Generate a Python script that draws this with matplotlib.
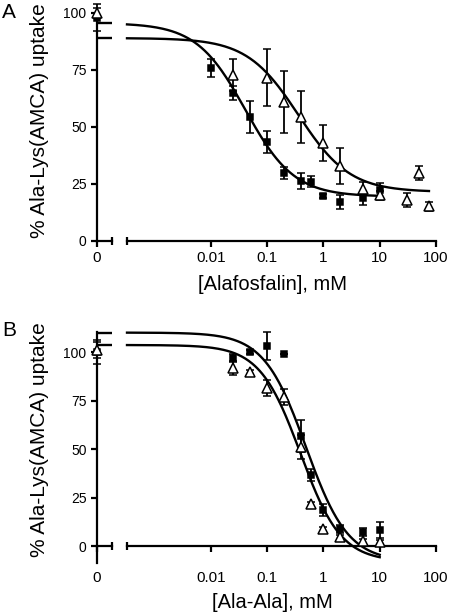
import numpy as np
import matplotlib
matplotlib.use('Agg')
import matplotlib.pyplot as plt
from matplotlib.ticker import FixedLocator

plt.rcParams['font.family'] = ['Liberation Sans', 'DejaVu Sans']

# panel A: [Alafosfalin], mM
a_sq_x = [0, 0.01, 0.025, 0.05, 0.1, 0.2, 0.4, 0.6, 1, 2, 5, 10]
a_sq_y = [98, 76, 65, 54.4, 43.4, 29.8, 26.3, 26, 19.7, 17, 18.9, 22.4]
a_sq_err = [6, 4, 3, 7, 4.8, 2.5, 3.5, 2.5, 1, 3, 3, 3]
a_tr_x = [0, 0.025, 0.1, 0.2, 0.4, 1, 2, 5, 10, 30, 50, 75]
a_tr_y = [100, 72.8, 71.5, 61, 54.4, 43, 33, 23, 20, 18, 29.8, 15.3]
a_tr_err = [2, 7, 12.5, 13.6, 11.6, 8, 8, 3, 2, 3, 3, 2]
# fitted curves: top, bottom, IC50, hill slope
a_sq_fit = (95.6, 19.5, 0.041, 1.0)
a_tr_fit = (89.0, 21.5, 0.36, 0.95)

# panel B: [Ala-Ala], mM
b_sq_x = [0, 0.025, 0.05, 0.1, 0.2, 0.4, 0.6, 1, 2, 5, 10]
b_sq_y = [100, 96.9, 100, 103, 99, 56.7, 36.6, 18.6, 8.8, 7.2, 8.2]
b_sq_err = [6, 2, 1, 7.2, 0, 8, 3, 3, 2, 2, 4]
b_tr_x = [0, 0.025, 0.05, 0.1, 0.2, 0.4, 0.6, 1, 2, 5, 10]
b_tr_y = [101, 91.8, 89.7, 81.4, 76.8, 51, 21.6, 8.8, 4.6, 2.6, 2]
b_tr_err = [4, 3.6, 1, 4, 4, 6, 1, 1, 1, 1, 1]
b_sq_fit = (110.0, -8.0, 0.49, 1.16)
b_tr_fit = (103.6, -8.0, 0.39, 1.2)

yticks = [0, 25, 50, 75, 100]
xticks = [0.01, 0.1, 1, 10, 100]
xticklabels = ['0.01', '0.1', '1', '10', '100']
ylabel = '% Ala-Lys(AMCA) uptake'

W, H = 450, 616
XMIN = 10 ** -3.49

fig = plt.figure(figsize=(W / 100, H / 100), dpi=100)


def hill(x, top, bottom, ic50, slope):
    x = np.asarray(x, dtype=float)
    return bottom + (top - bottom) / (1 + (x / ic50) ** slope)


def px_axes(x0, x1, ytop, ybot):
    return fig.add_axes([x0 / W, 1 - ybot / H, (x1 - x0) / W, (ybot - ytop) / H])


def draw_panel(ytop, ybot, ylim, series, xlabel, xlabel_y, ylabel_y, letter, letter_y):
    ax0 = px_axes(97, 112, ytop, ybot)
    ax1 = px_axes(127, 436, ytop, ybot)
    xpad = 14 if ylim[0] < 0 else 3.5
    for ax in (ax0, ax1):
        ax.set_ylim(ylim)
        ax.patch.set_alpha(0)
        for s in ('top', 'right'):
            ax.spines[s].set_visible(False)
        for s in ('left', 'bottom'):
            ax.spines[s].set_linewidth(1.6)
        if ylim[0] < 0:
            ax.spines['bottom'].set_position(('data', 0))
        ax.tick_params(labelsize=10, width=1.6, length=4)
        ax.tick_params(axis='x', labelsize=11, pad=xpad)
        ax.tick_params(which='minor', direction='inout', length=6, width=1.6)

    ax0.set_xlim(0, 1)
    ax0.set_xticks([0])
    ax0.set_xticklabels(['0'])
    ax0.xaxis.set_minor_locator(FixedLocator([1]))
    ax0.set_yticks(yticks)
    ax0.set_yticklabels([str(t) for t in yticks])

    ax1.set_xscale('log')
    ax1.set_xlim(XMIN, 100)
    ax1.set_xticks(xticks)
    ax1.set_xticklabels(xticklabels)
    ax1.xaxis.set_minor_locator(FixedLocator([XMIN]))
    ax1.spines['left'].set_visible(False)
    ax1.set_yticks([])

    for x, y, err, marker, ms, mfc, fit in series:
        x = np.array(x)
        y = np.array(y)
        err = np.array(err)
        zero = x == 0
        style = dict(fmt=marker, ms=ms, mfc=mfc, mec='k', mew=1.1, color='k',
                     ecolor='k', elinewidth=1.3, capsize=3.2, capthick=1.3,
                     clip_on=False, zorder=3)
        ax0.errorbar(x[zero], y[zero], yerr=err[zero], **style)
        ax1.errorbar(x[~zero], y[~zero], yerr=err[~zero], **style)
        ax0.hlines(fit[0], 0, 1, color='k', lw=1.7, clip_on=False)
        xs = np.logspace(np.log10(XMIN), np.log10(x.max()), 300)
        ax1.plot(xs, hill(xs, *fit), color='k', lw=1.7, clip_on=False)

    fig.text(40 / W, 1 - ylabel_y / H, ylabel, rotation=90,
             ha='center', va='center', fontsize=15)
    fig.text(272 / W, 1 - xlabel_y / H, xlabel, ha='center', va='center',
             fontsize=14.5)
    fig.text(9 / W, 1 - letter_y / H, letter, ha='center', va='center',
             fontsize=15)


ya_top = 241 - 101 * 2.28
draw_panel(ya_top, 241, (0, 101),
           [(a_sq_x, a_sq_y, a_sq_err, 's', 4.5, 'k', a_sq_fit),
            (a_tr_x, a_tr_y, a_tr_err, '^', 6.5, 'white', a_tr_fit)],
           '[Alafosfalin], mM', 285, 121, 'A', 13)

b_scale = 1.94
draw_panel(546 - 110.5 * b_scale, 546 + 9 * b_scale, (-9, 110.5),
           [(b_sq_x, b_sq_y, b_sq_err, 's', 5, 'k', b_sq_fit),
            (b_tr_x, b_tr_y, b_tr_err, '^', 6.5, 'white', b_tr_fit)],
           '[Ala-Ala], mM', 602, 440, 'B', 331)

fig.savefig('out.png', dpi=100)
